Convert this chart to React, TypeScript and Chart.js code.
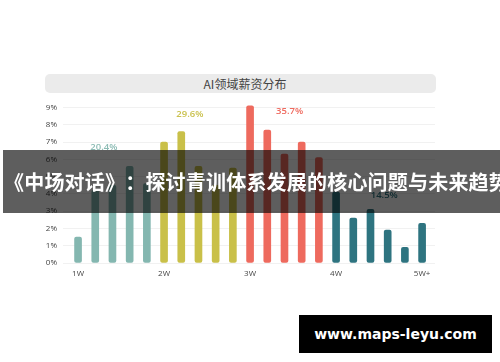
import React, { useEffect, useRef } from "react";
import { Chart, registerables } from "chart.js";

Chart.register(...registerables);

const titleText = "AI领域薪资分布";
const bannerText = "《中场对话》：探讨青训体系发展的核心问题与未来趋势";
const watermarkText = "www.maps-leyu.com";

const xTickValues = [10, 20, 30, 40, 50];
const xTickLabels = ["1W", "2W", "3W", "4W", "5W+"];

const group1X = [10, 12, 14, 16, 18];
const group1Y = [1.5, 4.2, 4.5, 5.6, 4.6];
const group2X = [20, 22, 24, 26, 28];
const group2Y = [7.0, 7.6, 5.6, 4.5, 5.5];
const group3X = [30, 32, 34, 36, 38];
const group3Y = [9.1, 7.7, 6.3, 7.0, 6.1];
const group4X = [40, 42, 44, 46, 48, 50];
const group4Y = [4.1, 2.6, 3.1, 1.9, 0.9, 2.3];

const groupColors = ["#84b7b0", "#c9c049", "#ee6a5e", "#2e7480"];
const groupLabelColors = ["#8dbcb5", "#cac14e", "#ef6b60", "#2e7480"];
const groupLabels = ["20.4%", "29.6%", "35.7%", "14.5%"];
const groupLabelX = [13.0, 23.0, 34.6, 45.6];
const groupLabelY = [6.7, 8.6, 8.8, 3.9];

const toPoints = (xs: number[], ys: number[]) => xs.map((x, i) => ({ x, y: ys[i] }));

const labelPlugin = {
  id: "groupLabels",
  afterDatasetsDraw(chart: any) {
    const { ctx, scales } = chart;
    ctx.save();
    ctx.font = "600 9.5px 'Open Sans'";
    ctx.textAlign = "center";
    ctx.textBaseline = "middle";
    groupLabels.forEach((t, i) => {
      ctx.fillStyle = groupLabelColors[i];
      ctx.fillText(t, scales.x.getPixelForValue(groupLabelX[i]), scales.y.getPixelForValue(groupLabelY[i]));
    });
    ctx.restore();
  },
};

export default function App() {
  const ref = useRef<HTMLCanvasElement | null>(null);

  useEffect(() => {
    if (!ref.current) return;
    const datasets = [
      [group1X, group1Y],
      [group2X, group2Y],
      [group3X, group3Y],
      [group4X, group4Y],
    ].map(([xs, ys], i) => ({
      data: toPoints(xs, ys),
      backgroundColor: groupColors[i],
      barThickness: 7,
      borderRadius: 2,
      borderSkipped: false,
      grouped: false,
      clip: false as any,
    }));
    const chart = new Chart(ref.current, {
      type: "bar",
      data: { datasets: datasets as any },
      options: {
        animation: false,
        responsive: false,
        layout: { padding: { left: 0, right: 65, top: 107.5, bottom: 79 } },
        plugins: { legend: { display: false }, tooltip: { enabled: false }, title: { display: false } },
        scales: {
          x: {
            type: "linear",
            offset: false,
            min: 8.25,
            max: 51.5,
            grid: { display: false, drawTicks: false, tickLength: 0 },
            border: { display: false },
            afterBuildTicks: (scale: any) => {
              scale.ticks = xTickValues.map((v) => ({ value: v }));
            },
            afterFit: (scale: any) => {
              scale.height = 20;
            },
            ticks: {
              autoSkip: false,
              maxRotation: 0,
              padding: 6,
              color: "#444",
              font: { family: "'Open Sans'", size: 8 },
              callback: (v: any) => {
                const i = xTickValues.indexOf(Number(v));
                return i >= 0 ? xTickLabels[i] : "";
              },
            },
          },
          y: {
            min: 0,
            max: 9,
            grid: { color: "#f1f1f1", drawTicks: false, tickLength: 0 },
            border: { display: false },
            afterFit: (scale: any) => {
              scale.width = 63;
            },
            ticks: {
              stepSize: 1,
              padding: 6,
              color: "#444",
              font: { family: "'Open Sans'", size: 8 },
              callback: (v: any) => v + "%",
            },
          },
        },
      },
      plugins: [labelPlugin],
    });
    return () => chart.destroy();
  }, []);

  return (
    <div style={{ position: "fixed", left: 0, top: 0, width: 500, height: 362, background: "#fff", overflow: "hidden" }}>
      <div
        style={{
          position: "absolute",
          left: 45,
          top: 74,
          width: 391,
          height: 19,
          boxSizing: "border-box",
          paddingLeft: 9,
          background: "#ebebeb",
          borderRadius: 5,
          textAlign: "center",
          lineHeight: "19px",
          fontSize: 12,
          color: "#444",
          fontFamily: "'Noto Sans CJK SC', sans-serif",
        }}
      >
        {titleText}
      </div>
      <canvas ref={ref} width={500} height={362} style={{ position: "absolute", left: 0, top: 0 }} />
      <div
        style={{
          position: "absolute",
          left: 3,
          top: 150,
          width: 497,
          height: 63,
          background: "rgba(0,0,0,0.63)",
          overflow: "hidden",
          whiteSpace: "nowrap",
        }}
      >
        <div
          style={{
            position: "absolute",
            left: 1,
            top: 0,
            height: 63,
            lineHeight: "63px",
            fontSize: 20,
            letterSpacing: "0.2px",
            fontWeight: 700,
            color: "#fff",
            fontFamily: "'Noto Sans CJK SC', sans-serif",
            textSpacingTrim: "space-all",
            fontFeatureSettings: '"halt" 0, "chws" 0',
          } as any}
        >
          {bannerText}
        </div>
      </div>
      <div
        style={{
          position: "absolute",
          left: 299,
          top: 315,
          width: 193,
          height: 38,
          background: "#000",
          color: "#fff",
          textAlign: "center",
          lineHeight: "38px",
          fontSize: 14,
          fontWeight: 700,
          fontFamily: "'DejaVu Sans', sans-serif",
        }}
      >
        {watermarkText}
      </div>
    </div>
  );
}
